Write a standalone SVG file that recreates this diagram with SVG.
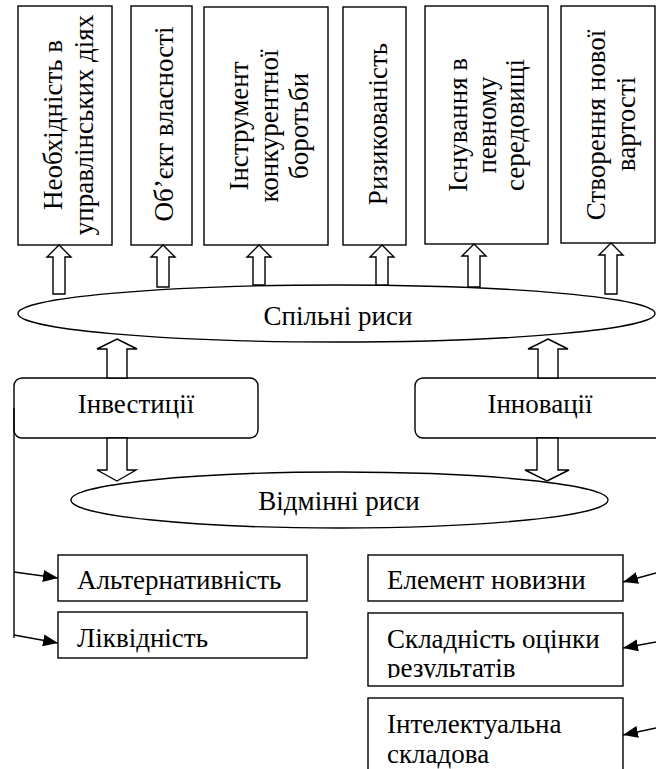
<svg xmlns="http://www.w3.org/2000/svg" width="656" height="769" viewBox="0 0 656 769">
<defs>
<marker id="ah" markerUnits="userSpaceOnUse" markerWidth="16" markerHeight="12" refX="15" refY="6" orient="auto">
<path d="M0,0 L15,6 L0,12 z" fill="#000"/>
</marker>
<clipPath id="c2"><rect x="368" y="613" width="255" height="65"/></clipPath>
</defs>
<rect width="656" height="769" fill="#fff"/>

<g id="top-boxes" font-family="Liberation Serif" font-size="27" fill="#000" text-anchor="middle">
<g id="n1"><rect x="18" y="6" width="94" height="239" fill="#fff" stroke="#000" stroke-width="1.4"/>
<text transform="translate(62,125) rotate(-90)">Необхідність в</text>
<text transform="translate(93,125) rotate(-90)">управлінських діях</text></g>
<g id="n2"><rect x="131" y="6" width="61" height="239" fill="#fff" stroke="#000" stroke-width="1.4"/>
<text transform="translate(173,124) rotate(-90)">Об’єкт власності</text></g>
<g id="n3"><rect x="204" y="7" width="124" height="238" fill="#fff" stroke="#000" stroke-width="1.4"/>
<text transform="translate(248,126) rotate(-90)">Інструмент</text>
<text transform="translate(278,126) rotate(-90)">конкурентної</text>
<text transform="translate(308,126) rotate(-90)">боротьби</text></g>
<g id="n4"><rect x="343" y="7" width="63" height="238" fill="#fff" stroke="#000" stroke-width="1.4"/>
<text transform="translate(387,124) rotate(-90)">Ризикованість</text></g>
<g id="n5"><rect x="425" y="6" width="123" height="238" fill="#fff" stroke="#000" stroke-width="1.4"/>
<text transform="translate(467,125) rotate(-90)">Існування в</text>
<text transform="translate(496,125) rotate(-90)">певному</text>
<text transform="translate(524,125) rotate(-90)">середовищі</text></g>
<g id="n6"><rect x="561" y="6" width="94" height="237" fill="#fff" stroke="#000" stroke-width="1.4"/>
<text transform="translate(605,125) rotate(-90)">Створення нової</text>
<text transform="translate(635,124) rotate(-90)">вартості</text></g>
</g>

<g id="common" font-family="Liberation Serif" font-size="27" text-anchor="middle"><ellipse cx="336.5" cy="313.5" rx="318.5" ry="28.5" fill="#fff" stroke="#000" stroke-width="1.4"/>
<text x="338" y="325">Спільні риси</text></g>

<g id="different" font-family="Liberation Serif" font-size="27" text-anchor="middle"><ellipse cx="339.5" cy="500" rx="268.5" ry="28" fill="#fff" stroke="#000" stroke-width="1.4"/>
<text x="339" y="510">Відмінні риси</text></g>

<g id="investments" font-family="Liberation Serif" font-size="27" text-anchor="middle"><rect x="14" y="378" width="244" height="60" rx="8" fill="#fff" stroke="#000" stroke-width="1.4"/>
<text x="136" y="413">Інвестиції</text></g>

<g id="innovations" font-family="Liberation Serif" font-size="27" text-anchor="middle"><rect x="415" y="378" width="260" height="60" rx="8" fill="#fff" stroke="#000" stroke-width="1.4"/>
<text x="540" y="413">Інновації</text></g>

<g id="alt" font-family="Liberation Serif" font-size="27"><rect x="58" y="555" width="249" height="46" fill="#fff" stroke="#000" stroke-width="1.4"/>
<text x="77" y="589">Альтернативність</text></g>
<g id="liq" font-family="Liberation Serif" font-size="27"><rect x="58" y="612" width="249" height="46" fill="#fff" stroke="#000" stroke-width="1.4"/>
<text x="77" y="647">Ліквідність</text></g>

<g id="novelty" font-family="Liberation Serif" font-size="27"><rect x="368" y="555" width="255" height="46" fill="#fff" stroke="#000" stroke-width="1.4"/>
<text x="387" y="589">Елемент новизни</text></g>
<g id="complexity" font-family="Liberation Serif" font-size="27"><rect x="368" y="613" width="255" height="73" fill="#fff" stroke="#000" stroke-width="1.4"/>
<g clip-path="url(#c2)"><text x="387" y="648">Складність оцінки</text>
<text x="387" y="677">результатів</text></g></g>
<g id="intellect" font-family="Liberation Serif" font-size="27"><rect x="368" y="698" width="255" height="90" fill="#fff" stroke="#000" stroke-width="1.4"/>
<text x="387" y="733">Інтелектуальна</text>
<text x="387" y="763">складова</text></g>

<g id="connectors" fill="#fff" stroke="#000" stroke-width="1.4">
<path d="M59,245 L71,257 L65,257 L65,294 L53,294 L53,257 L47,257 Z"/>
<path d="M163,245 L175,257 L169,257 L169,287 L157,287 L157,257 L151,257 Z"/>
<path d="M259,245 L271,257 L265,257 L265,285 L253,285 L253,257 L247,257 Z"/>
<path d="M382,245 L394,257 L388,257 L388,285 L376,285 L376,257 L370,257 Z"/>
<path d="M474,244 L486,256 L480,256 L480,287 L468,287 L468,256 L462,256 Z"/>
<path d="M611,243 L623,255 L617,255 L617,294 L605,294 L605,255 L599,255 Z"/>
<path d="M117,339 L137,349 L127,349 L127,378 L107,378 L107,349 L97,349 Z"/>
<path d="M548,339 L568,349 L558,349 L558,378 L538,378 L538,349 L528,349 Z"/>
<path d="M117,481 L136,470 L127,470 L127,438 L107,438 L107,470 L97,470 Z"/>
<path d="M547,481 L569,470 L558,470 L558,438 L537,438 L537,470 L525,470 Z"/>
<path fill="none" d="M14,408 L14,638"/>
<path fill="none" d="M14,572 L58,578" marker-end="url(#ah)"/>
<path fill="none" d="M14,635 L58,643" marker-end="url(#ah)"/>
<path fill="none" d="M656,573 L623,582" marker-end="url(#ah)"/>
<path fill="none" d="M656,642 L623,648" marker-end="url(#ah)"/>
<path fill="none" d="M656,728 L623,735" marker-end="url(#ah)"/>
</g>
</svg>
